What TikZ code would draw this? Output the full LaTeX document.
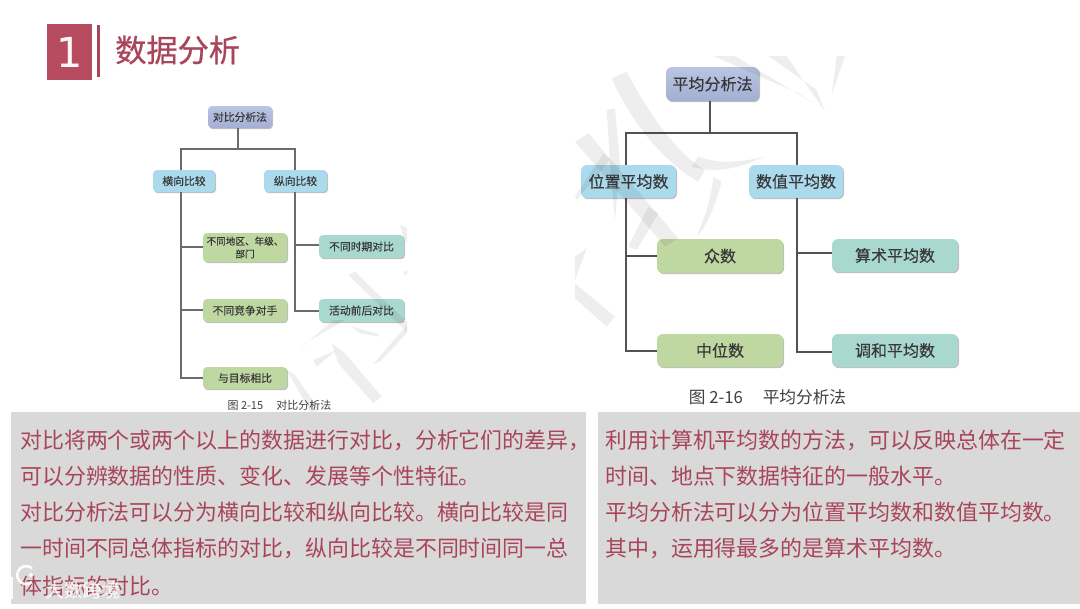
\documentclass[tikz,border=0pt]{standalone}
\usepackage{fontspec}
\setmainfont{Noto Sans CJK SC}
\newfontfamily\digitfont{DejaVu Sans}
\usetikzlibrary{shadows,calc}
\definecolor{rosered}{HTML}{A9455B}
\definecolor{rosebox}{HTML}{B74C60}
\definecolor{panelgray}{HTML}{D9D9D9}
\definecolor{violettop}{HTML}{BAC5E3}
\definecolor{violetbot}{HTML}{A3AED2}
\definecolor{bluefill}{HTML}{ABDAEC}
\definecolor{greenfill}{HTML}{BFD7A1}
\definecolor{tealfill}{HTML}{A9D8D0}
\tikzset{
  base/.style={rounded corners=3pt,inner sep=0pt,align=center,text=black!78,
    drop shadow={shadow xshift=.8pt,shadow yshift=-.9pt,opacity=.25,fill=black}},
  wh/.style 2 args={minimum width=#1*.75pt,minimum height=#2*.75pt},
  violetbox/.style={base,top color=violettop,bottom color=violetbot},
  bluebox/.style={base,fill=bluefill},
  greenbox/.style={base,fill=greenfill},
  tealbox/.style={base,fill=tealfill},
  small/.style={font=\fontsize{8.1pt}{9.6pt}\selectfont\addfontfeature{FakeBold=0.3}},
  tiny/.style={font=\fontsize{7.2pt}{9.6pt}\selectfont\addfontfeature{FakeBold=0.3}},
  large/.style={rounded corners=4.5pt,font=\fontsize{12pt}{14pt}\selectfont\addfontfeature{FakeBold=0.3}},
  linkL/.style={draw=black!58,line width=.95pt},
  linkR/.style={draw=black!68,line width=.95pt},
  body/.style={anchor=west,inner sep=0pt,text=rosered,font=\fontsize{16.45pt}{18pt}\selectfont},
  wm/.style={fill=black,opacity=.065,draw=none},
  captionL/.style={text=black!75,inner sep=0pt,font=\fontsize{8.25pt}{10pt}\selectfont},
  captionR/.style={text=black!75,inner sep=0pt,font=\fontsize{12.5pt}{14pt}\selectfont},
}
\begin{document}
\begin{tikzpicture}[x=.75pt,y=-.75pt]
\useasboundingbox (0,0) rectangle (1080,608);
\fill[white] (0,0) rectangle (1080,608);

% header
\node[fill=rosebox,minimum width=45*.75pt,minimum height=56*.75pt,inner sep=0pt,text=white!95!rosebox,
  font=\digitfont\fontsize{31pt}{33pt}\selectfont] (numbox) at (69.5,52) {1};
\fill[rosered] (97,25) rectangle (100,77);
\node[anchor=west,inner sep=0pt,text=rosered,font=\fontsize{23.4pt}{26pt}\selectfont\addfontfeature{FakeBold=0.7}] (title) at (115,50) {数据分析};

% left diagram
\node[violetbox,small,wh={64}{22}] (lt) at (240,117) {对比分析法};
\node[bluebox,small,wh={62}{22}] (lh) at (184,181) {横向比较};
\node[bluebox,small,wh={63}{22}] (lz) at (295.5,181) {纵向比较};
\node[greenbox,tiny,wh={84}{29}] (l1) at (245,247.5) {不同地区、年级、\\部门};
\node[greenbox,small,wh={84}{23}] (l2) at (245,310.5) {不同竞争对手};
\node[greenbox,small,wh={84}{22}] (l3) at (245,378) {与目标相比};
\node[tealbox,small,wh={85}{23}] (r1) at (361.5,246.5) {不同时期对比};
\node[tealbox,small,wh={85}{23}] (r2) at (361.5,310.5) {活动前后对比};
\coordinate (ljt) at (238,149);
\coordinate (ljl) at (181,149);
\coordinate (ljr) at (295,149);
\coordinate (lbl) at (181,378);
\coordinate (lbr) at (295,311);
\coordinate (lb1) at (181,247);
\coordinate (lb2) at (181,310);
\coordinate (rb1) at (295,245);
\draw[linkL] (lt.south -| ljt) -- (ljt);
\draw[linkL] (ljl |- lh.north) -- (ljl) -- (ljr) -- (ljr |- lz.north);
\draw[linkL] (lh.south -| ljl) -- (lbl) -- (l3.west |- lbl);
\draw[linkL] (lb1) -- (l1.west |- lb1);
\draw[linkL] (lb2) -- (l2.west |- lb2);
\draw[linkL] (lz.south -| ljr) -- (lbr) -- (r2.west |- lbr);
\draw[linkL] (rb1) -- (r1.west |- rb1);
\node[captionL] (capl) at (279.5,405) {图 2-15\hspace{1.2em}对比分析法};

% right diagram
\node[violetbox,large,wh={93}{34}] (at) at (712.5,84) {平均分析法};
\node[bluebox,large,wh={95}{33}] (ap) at (628.5,181.5) {位置平均数};
\node[bluebox,large,wh={94}{33}] (an) at (796,181.5) {数值平均数};
\node[greenbox,large,wh={126}{34}] (a1) at (720,256) {众数};
\node[greenbox,large,wh={126}{33}] (a2) at (720,350.5) {中位数};
\node[tealbox,large,wh={126}{33}] (b1) at (895,255.5) {算术平均数};
\node[tealbox,large,wh={126}{33}] (b2) at (895,350.5) {调和平均数};
\coordinate (ajt) at (710,133);
\coordinate (ajl) at (626,133);
\coordinate (ajr) at (797,133);
\coordinate (abl) at (626,351);
\coordinate (abr) at (797,352);
\coordinate (ab1) at (626,256);
\coordinate (ab2) at (797,253);
\draw[linkR] (at.south -| ajt) -- (ajt);
\draw[linkR] (ajl |- ap.north) -- (ajl) -- (ajr) -- (ajr |- an.north);
\draw[linkR] (ap.south -| ajl) -- (abl) -- (a2.west |- abl);
\draw[linkR] (ab1) -- (a1.west |- ab1);
\draw[linkR] (an.south -| ajr) -- (abr) -- (b2.west |- abr);
\draw[linkR] (ab2) -- (b1.west |- ab2);
\node[captionR] (capr) at (767.5,397) {图 2-16\hspace{1.2em}平均分析法};

% watermark, right
\begin{scope}[shift={(565,50)},x=.25pt,y=-.25pt]
\clip (0,18) rectangle (900,830);
\fill[wm] (140,85) -- (185,65) .. controls (240,170) and (330,310) .. (420,360) -- (400,395) .. controls (300,340) and (200,220) .. cycle;
\fill[wm] (30,275) -- (70,250) -- (340,565) -- (300,590) -- cycle;
\fill[wm] (600,320) .. controls (540,345) and (470,375) .. (380,350) -- (400,320) .. controls (470,345) and (530,335) .. cycle;
\fill[wm] (445,18) -- (510,18) -- (745,160) -- (700,130) -- cycle;
\fill[wm] (610,18) -- (665,18) -- (780,185) -- (755,120) -- cycle;
\fill[wm] (815,18) -- (840,18) -- (800,135) -- cycle;
\fill[wm] (30,620) -- (65,595) -- (30,690) -- cycle;
\fill[wm] (30,700) -- (150,800) -- (125,830) -- (30,745) -- cycle;
\fill[wm] (445,380) -- (470,395) .. controls (450,470) and (425,530) .. (395,560) .. controls (420,500) and (440,440) .. cycle;
\fill[wm] (125,180) -- (150,175) -- (165,340) -- (150,510) -- (135,340) -- cycle;
\fill[wm] (30,440) -- (115,310) -- (135,330) -- (35,450) -- cycle;
\fill[wm] (190,590) -- (250,470) -- (280,490) -- (215,600) -- cycle;
\end{scope}

% watermark, left
\begin{scope}[shift={(280,220)},x=.25pt,y=-.25pt]
\clip (0,0) rectangle (381,585);
\fill[wm] (360,15) -- (385,25) -- (385,75) -- (370,50) -- cycle;
\fill[wm] (205,165) -- (225,155) -- (385,310) -- (385,340) -- cycle;
\fill[wm] (160,300) -- (195,300) -- (75,370) -- (60,385) -- cycle;
\fill[wm] (155,370) -- (195,400) -- (305,530) -- (280,550) -- (175,430) -- cycle;
\fill[wm] (215,320) -- (290,340) -- (300,350) -- (240,340) -- cycle;
\fill[wm] (20,450) -- (45,465) -- (118,570) -- (95,582) -- cycle;
\fill[wm] (385,310) -- (380,340) -- (300,425) -- (280,432) -- cycle;
\fill[wm] (370,155) -- (385,150) -- (378,168) -- cycle;
\fill[wm] (100,420) -- (170,390) -- (110,440) -- cycle;
\end{scope}

% panels
\fill[panelgray] (11,412) rectangle (586,604);
\fill[panelgray] (598,412) rectangle (1080,604);
\node[body] (p1) at (20,440) {对比将两个或两个以上的数据进行对比，分析它们的差异，};
\node[body] (p2) at (20,476) {可以分辨数据的性质、变化、发展等个性特征。};
\node[body] (p3) at (20,512) {对比分析法可以分为横向比较和纵向比较。横向比较是同};
\node[body] (p4) at (20,548) {一时间不同总体指标的对比，纵向比较是不同时间同一总};
\node[body] (p5) at (20,586) {体指标的对比。};
\node[body] (q1) at (605,440) {利用计算机平均数的方法，可以反映总体在一定};
\node[body] (q2) at (605,476) {时间、地点下数据特征的一般水平。};
\node[body] (q3) at (605,512) {平均分析法可以分为位置平均数和数值平均数。};
\node[body] (q4) at (605,548) {其中，运用得最多的是算术平均数。};

% channel mark over the last line
\draw[white,opacity=.9,line width=1.8pt] (12,577) -- (12,599);
\draw[white,opacity=.9,line width=2pt] (32,582) arc (50:310:9);
\fill[white,opacity=.9] (31,575) circle (2);
\node[anchor=west,inner sep=0pt,text=white,opacity=.8,font=\fontsize{14pt}{16pt}\selectfont\addfontfeature{FakeBold=0.4}] (mark) at (45,590) {大数跨境};
\end{tikzpicture}
\end{document}
